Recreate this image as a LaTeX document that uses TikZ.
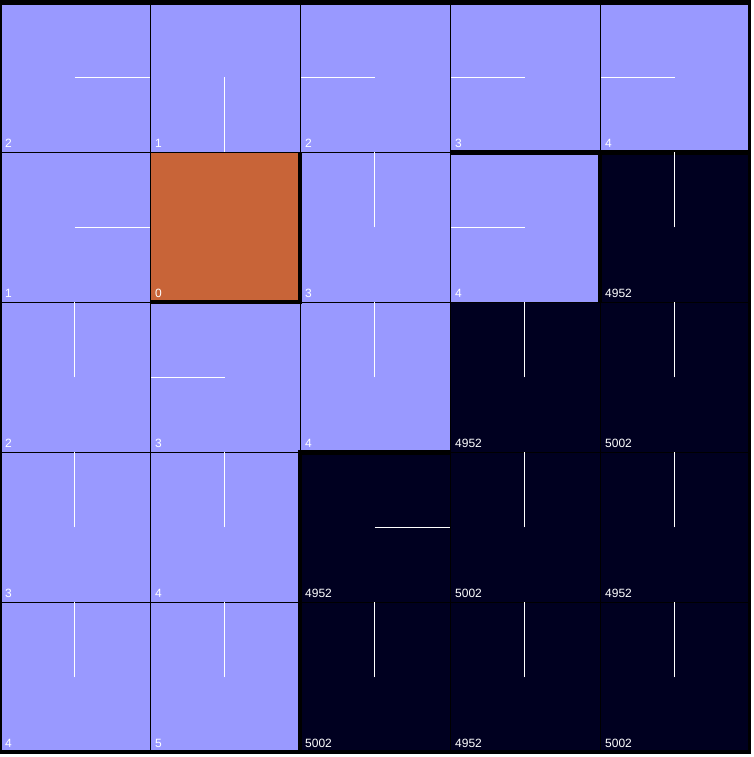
\documentclass[tikz,border=0pt]{standalone}
\usepackage{fontspec}
\setmainfont{Liberation Sans}
\definecolor{lav}{HTML}{9999FF}
\definecolor{org}{HTML}{C86438}
\definecolor{nav}{HTML}{000020}
\begin{document}
\begin{tikzpicture}[x=1pt,y=-1pt,
  lbl/.style={anchor=base west,inner sep=0pt,text=white,font=\fontsize{12}{12}\selectfont},
  pol/.style={draw=white,line width=1pt},
  grid line/.style={draw=black,line width=1pt},
  thick strip/.style={fill=black}]
\useasboundingbox (0,0) rectangle (754,757);
\fill[white] (0,0) rectangle (754,757);
\fill[black] (0,0) rectangle (751.3,754.3);
% cell fills
\fill[lav] (2,4.7) rectangle (748,750);
\fill[org] (150,152) rectangle (300,302);
\fill[nav] (600,152) rectangle (748,750);
\fill[nav] (450,302) rectangle (600,750);
\fill[nav] (300,452) rectangle (450,750);
% grid lines
\foreach \v in {150,300,450,600} {
  \draw[grid line] (\v,4.7) -- (\v,750);
}
\foreach \h in {152,302,452,602} {
  \draw[grid line] (2,\h) -- (748,\h);
}
% thick strips
\fill[thick strip] (298,152) rectangle (302,304);
\fill[thick strip] (150,300) rectangle (302,304);
\fill[thick strip] (450,150) rectangle (748,155);
\fill[thick strip] (597.5,150) rectangle (601.5,302);
\fill[thick strip] (298,450) rectangle (450,455);
\fill[thick strip] (298,450) rectangle (302,750);
% policy lines: r,c,direction (R,L,U,D)
\foreach \r/\c/\d in {0/0/R,0/1/D,0/2/L,0/3/L,0/4/L,
                      1/0/R,1/2/U,1/3/L,1/4/U,
                      2/0/U,2/1/L,2/2/U,2/3/U,2/4/U,
                      3/0/U,3/1/U,3/2/R,3/3/U,3/4/U,
                      4/0/U,4/1/U,4/2/U,4/3/U,4/4/U} {
  \pgfmathsetmacro{\cx}{74.5+150*\c}
  \pgfmathsetmacro{\cy}{77.3+150*\r}
  \coordinate (c\r\c) at (\cx,\cy);
  \if R\d \draw[pol] (c\r\c) -- ++(75,0); \fi
  \if L\d \draw[pol] (c\r\c) -- ++(-74,0); \fi
  \if U\d \draw[pol] (c\r\c) -- ++(0,-75); \fi
  \if D\d \draw[pol] (c\r\c) -- ++(0,75); \fi
}
% labels
\foreach \r/\c/\t in {0/0/2,0/1/1,0/2/2,0/3/3,0/4/4,
                      1/0/1,1/1/0,1/2/3,1/3/4,1/4/4952,
                      2/0/2,2/1/3,2/2/4,2/3/4952,2/4/5002,
                      3/0/3,3/1/4,3/2/4952,3/3/5002,3/4/4952,
                      4/0/4,4/1/5,4/2/5002,4/3/4952,4/4/5002} {
  \node[lbl] (l\r\c) at ({5+150*\c},{147+150*\r}) {\t};
}
\end{tikzpicture}
\end{document}
